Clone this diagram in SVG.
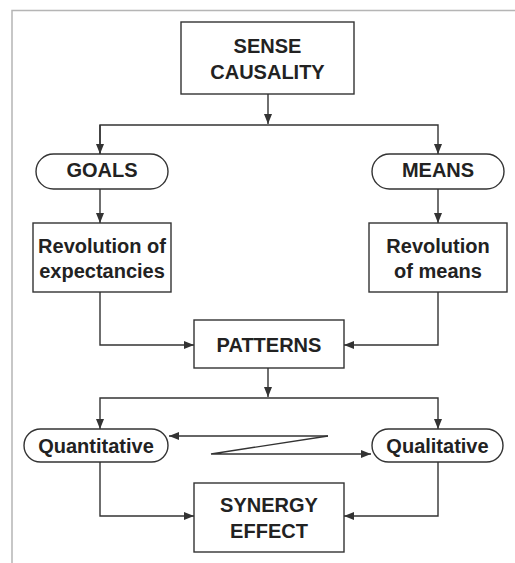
<svg xmlns="http://www.w3.org/2000/svg" width="515" height="563" viewBox="0 0 515 563">
<style>
.box{fill:#fff;stroke:#333;stroke-width:1.4}
.t{font-family:"Liberation Sans",Arial,sans-serif;font-weight:bold;font-size:20px;fill:#222;text-anchor:middle}
.c{fill:none;stroke:#333;stroke-width:1.4}
</style>
<defs>
<marker id="ah" viewBox="0 0 10 8" refX="10" refY="4" markerWidth="10" markerHeight="8" markerUnits="userSpaceOnUse" orient="auto">
<path d="M0,0 L10,4 L0,8 Z" fill="#333"/>
</marker>
</defs>
<rect width="515" height="563" fill="#fff"/>
<path d="M12,563 V10.5 H515" fill="none" stroke="#b5b5b5" stroke-width="1.5"/>
<g id="connectors">
<path class="c" d="M268,94 V124" marker-end="url(#ah)"/>
<path class="c" d="M100,154 V125 H438 V154" marker-end="url(#ah)"/>
<path class="c" d="M100,125 V154" marker-end="url(#ah)"/>
<path class="c" d="M100,189 V223" marker-end="url(#ah)"/>
<path class="c" d="M438,189 V223" marker-end="url(#ah)"/>
<path class="c" d="M100,292 V345 H194" marker-end="url(#ah)"/>
<path class="c" d="M438,292 V345 H344" marker-end="url(#ah)"/>
<path class="c" d="M268,368 V397" marker-end="url(#ah)"/>
<path class="c" d="M268,398 H438 V429" marker-end="url(#ah)"/>
<path class="c" d="M268,398 H100 V429" marker-end="url(#ah)"/>
<path class="c" d="M328,436 H169" marker-end="url(#ah)"/>
<path class="c" d="M328,436 L211,454 H371" marker-end="url(#ah)"/>
<path class="c" d="M100,462 V516 H194" marker-end="url(#ah)"/>
<path class="c" d="M438,462 V516 H344" marker-end="url(#ah)"/>
</g>
<g id="sense">
<rect class="box" x="181" y="22" width="173" height="72"/>
<text class="t" x="267.5" y="53">SENSE</text>
<text class="t" x="267.5" y="79">CAUSALITY</text>
</g>
<g id="goals">
<rect class="box" x="36" y="154" width="132" height="35" rx="17.5"/>
<text class="t" x="102" y="177">GOALS</text>
</g>
<g id="means">
<rect class="box" x="372" y="154" width="132" height="35" rx="17.5"/>
<text class="t" x="438" y="177">MEANS</text>
</g>
<g id="rev-exp">
<rect class="box" x="33" y="223" width="138" height="69"/>
<text class="t" x="102" y="253">Revolution of</text>
<text class="t" x="102" y="278">expectancies</text>
</g>
<g id="rev-means">
<rect class="box" x="369" y="223" width="138" height="69"/>
<text class="t" x="438" y="253">Revolution</text>
<text class="t" x="438" y="278">of means</text>
</g>
<g id="patterns">
<rect class="box" x="194" y="320" width="150" height="48"/>
<text class="t" x="269" y="352">PATTERNS</text>
</g>
<g id="quantitative">
<rect class="box" x="24" y="429" width="144" height="33" rx="16.5"/>
<text class="t" x="96" y="453">Quantitative</text>
</g>
<g id="qualitative">
<rect class="box" x="372" y="429" width="131" height="33" rx="16.5"/>
<text class="t" x="437.5" y="453">Qualitative</text>
</g>
<g id="synergy">
<rect class="box" x="194" y="483" width="150" height="69"/>
<text class="t" x="269" y="512">SYNERGY</text>
<text class="t" x="269" y="538">EFFECT</text>
</g>
</svg>
